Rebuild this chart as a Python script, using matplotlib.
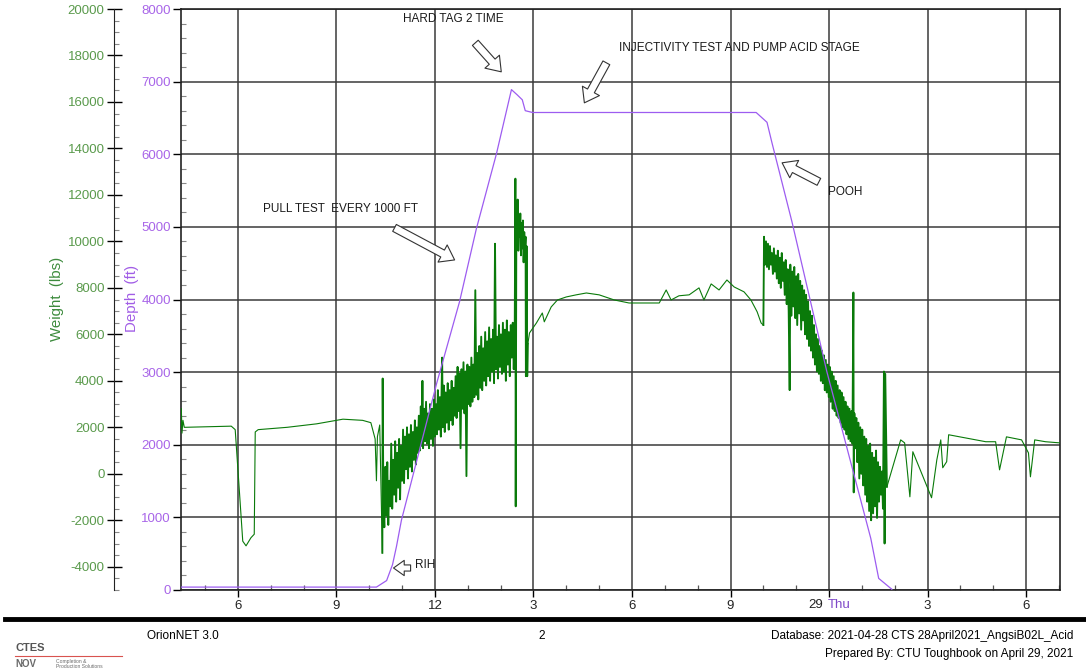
import numpy as np
import matplotlib.pyplot as plt
from matplotlib.ticker import MultipleLocator, FixedLocator

plt.rcParams['font.family'] = ['Liberation Sans', 'DejaVu Sans']
plt.rcParams['axes.unicode_minus'] = False

# ---- data (time in hours from 28 Apr 00:00) ----
depth_hours = [4.27, 10.22, 10.53, 10.71, 10.83, 10.98, 12.05, 12.75, 13.26, 13.87,
               14.33, 14.50, 14.66, 14.75, 14.97, 21.78, 22.11, 22.26, 22.87, 23.93,
               25.27, 25.51, 25.91]
depth_ft = [40, 40, 130, 350, 600, 960, 2840, 3970, 4970, 6000,
            6890, 6820, 6750, 6600, 6575, 6575, 6440, 6160, 5070, 3010,
            710, 160, 10]

# weight: before RIH
wt_surface = [(4.27, 2000), (4.28, 2800), (4.30, 1750), (4.33, 2300), (4.37, 2000),
              (5.80, 2050), (5.92, 1900), (6.05, -800), (6.15, -2900), (6.25, -3100),
              (6.40, -2750), (6.50, -2600), (6.53, 1800), (6.62, 1900), (7.50, 2000),
              (8.40, 2150), (9.20, 2350), (9.80, 2300), (10.05, 2200), (10.18, 1500),
              (10.22, -300), (10.25, 1600), (10.32, 2100), (10.40, -3400)]

# weight: running in hole (noisy)
wt_rih = [(10.40, -3400), (10.41, 4100), (10.43, -1200), (10.46, -2300), (10.49, 300),
          (10.52, -1800), (10.55, 500), (10.58, -2200), (10.61, -300), (10.64, -1400),
          (10.67, 1300), (10.70, -1500), (10.73, 600), (10.76, -900), (10.79, 1400),
          (10.82, -1200), (10.85, 900), (10.88, -600), (10.91, 1500), (10.94, -1100),
          (10.97, 1200), (11.00, -300), (11.03, 1900), (11.06, -400), (11.09, 1600),
          (11.12, 200), (11.15, 2000), (11.18, -200), (11.21, 1700), (11.24, 300),
          (11.27, 2100), (11.30, 100), (11.33, 1800), (11.36, 600), (11.39, 2300),
          (11.42, 400), (11.45, 2000), (11.48, 900), (11.51, 2500), (11.54, 1000),
          (11.57, 2900), (11.60, 1200), (11.62, 4000), (11.64, 1100), (11.67, 2800),
          (11.70, 1400), (11.73, 3100), (11.76, 1300), (11.79, 2600), (11.82, 1100),
          (11.85, 3000), (11.88, 1500), (11.91, 2800), (11.94, 1200), (11.97, 3200),
          (12.00, 1600), (12.03, 3000), (12.06, 1700), (12.09, 3600), (12.12, 1900),
          (12.15, 3300), (12.18, 1600), (12.22, 5000), (12.24, 2000), (12.27, 3800),
          (12.30, 1800), (12.33, 3500), (12.36, 2200), (12.39, 3900), (12.42, 1900),
          (12.45, 3600), (12.48, 2300), (12.51, 4000), (12.54, 2100), (12.57, 3700),
          (12.60, 2500), (12.63, 4200), (12.66, 2400), (12.69, 4600), (12.72, 2700),
          (12.75, 4300), (12.78, 1100), (12.81, 4500), (12.84, 2800), (12.87, 4800),
          (12.90, 2600), (12.93, 4400), (12.96, -100), (12.99, 4700), (13.02, 3000),
          (13.05, 4600), (13.08, 2900), (13.11, 5000), (13.14, 3100), (13.17, 4700),
          (13.20, 3300), (13.23, 7900), (13.26, 3400), (13.29, 5200), (13.32, 3200),
          (13.35, 5500), (13.38, 3700), (13.41, 5900), (13.44, 3600), (13.47, 5400),
          (13.50, 4000), (13.53, 6100), (13.56, 3800), (13.59, 5700), (13.62, 4200),
          (13.65, 6300), (13.68, 4000), (13.71, 5800), (13.74, 4400), (13.77, 6200),
          (13.80, 3900), (13.83, 9900), (13.86, 4500), (13.89, 5900), (13.92, 4100),
          (13.95, 6400), (13.98, 4600), (14.01, 6000), (14.04, 4300), (14.07, 6500),
          (14.10, 4400), (14.13, 6200), (14.16, 4000), (14.19, 6600), (14.22, 4700),
          (14.25, 6100), (14.28, 4200), (14.31, 6400), (14.34, 5000), (14.37, 6500),
          (14.40, 4500), (14.43, 6200), (14.45, 12700), (14.46, -1400), (14.48, 11500),
          (14.50, 9800), (14.52, 11800), (14.54, 9600), (14.56, 11000), (14.58, 10200),
          (14.60, 11200), (14.62, 9400), (14.64, 10800), (14.66, 9700), (14.68, 10900),
          (14.70, 9100), (14.72, 10400), (14.74, 9500), (14.76, 10200), (14.77, 4200),
          (14.79, 9800), (14.81, 4200), (14.83, 5600)]

# weight: on bottom, injectivity / acid stage
wt_bottom = [(14.83, 5600), (14.88, 6060), (15.09, 6490), (15.27, 6920), (15.33, 6540),
             (15.54, 7180), (15.73, 7480), (16.00, 7610), (16.30, 7700), (16.61, 7780),
             (17.00, 7700), (17.46, 7480), (17.91, 7350), (18.83, 7350), (19.04, 7910),
             (19.19, 7480), (19.43, 7660), (19.74, 7700), (20.04, 8000), (20.19, 7480),
             (20.41, 8170), (20.65, 7910), (20.89, 8340), (21.11, 8040), (21.41, 7830),
             (21.62, 7480), (21.81, 6970), (21.93, 6490), (22.00, 6400)]

# weight: pulling out of hole (noisy)
wt_pooh = [(22.00, 6400), (22.02, 10200), (22.05, 9000), (22.08, 10000), (22.11, 8900),
           (22.14, 9900), (22.17, 8800), (22.20, 9800), (22.23, 9000), (22.26, 9500),
           (22.29, 8600), (22.32, 9700), (22.35, 8700), (22.38, 9400), (22.41, 8400),
           (22.44, 9600), (22.47, 8200), (22.50, 9300), (22.53, 8000), (22.56, 9500),
           (22.59, 8300), (22.62, 9100), (22.65, 7700), (22.68, 9200), (22.71, 7300),
           (22.74, 8800), (22.77, 7000), (22.80, 3600), (22.82, 9000), (22.85, 6800),
           (22.88, 8700), (22.91, 7200), (22.94, 8900), (22.97, 6700), (23.00, 8500),
           (23.03, 6400), (23.06, 8600), (23.09, 6900), (23.12, 8300), (23.15, 6200),
           (23.18, 8100), (23.21, 6600), (23.24, 7900), (23.27, 6000), (23.30, 7700),
           (23.33, 5800), (23.36, 7400), (23.39, 5500), (23.42, 7000), (23.45, 5300),
           (23.48, 6800), (23.51, 5000), (23.54, 6400), (23.57, 4700), (23.60, 6000),
           (23.63, 4400), (23.66, 5800), (23.69, 4300), (23.72, 5500), (23.75, 4000),
           (23.78, 5300), (23.81, 3900), (23.84, 5100), (23.87, 3600), (23.90, 4900),
           (23.93, 3500), (23.96, 4700), (23.99, 3300), (24.02, 4600), (24.05, 3100),
           (24.08, 4400), (24.11, 2800), (24.14, 4200), (24.17, 2700), (24.20, 4000),
           (24.23, 2500), (24.26, 3800), (24.29, 2400), (24.32, 3600), (24.35, 2200),
           (24.38, 3500), (24.41, 2000), (24.44, 3300), (24.47, 1900), (24.50, 3100),
           (24.53, 1700), (24.56, 2900), (24.59, 1500), (24.62, 2800), (24.65, 1400),
           (24.68, 2700), (24.71, 1300), (24.74, 7800), (24.75, -800), (24.77, 2600),
           (24.80, 1100), (24.83, 2400), (24.86, 500), (24.89, 2200), (24.92, -200),
           (24.95, 2000), (24.98, 0), (25.01, 1900), (25.04, -500), (25.07, 1600),
           (25.10, -900), (25.13, 1500), (25.16, -1200), (25.19, 1200), (25.22, -1600),
           (25.25, 1300), (25.28, -2000), (25.31, 900), (25.34, -1700), (25.37, 700),
           (25.40, -1400), (25.43, 1000), (25.46, -1900), (25.49, 500), (25.52, -1200),
           (25.55, 300), (25.58, -900), (25.61, 100), (25.64, -1500), (25.67, 4400),
           (25.69, -3000), (25.71, 4300), (25.76, -560)]

# weight: back at surface
wt_after = [(25.76, -560), (26.18, 1460), (26.30, 1330), (26.46, -990), (26.55, 950),
            (27.12, -1030), (27.28, 600), (27.40, 1460), (27.46, 260), (27.58, 520),
            (27.64, 1680), (28.77, 1380), (29.07, 1380), (29.19, 170), (29.40, 1590),
            (29.86, 1460), (30.07, 900), (30.13, -130), (30.26, 1460), (30.59, 1380),
            (31.03, 1330)]

x_ticks = [6, 9, 12, 15, 18, 21, 24, 27, 30]
x_labels = ['6', '9', '12', '3', '6', '9', '', '3', '6']

GREEN = '#0a7a0a'
GREEN_TXT = '#5a9a4c'
PURPLE = '#9d5cf0'
PURPLE_TXT = '#a865e8'
GRID = '#3a3a3a'

fig = plt.figure(figsize=(10.86, 6.69), dpi=100)
ax = fig.add_axes([181/1086, 1 - 590/669, 879/1086, 581/669])
ax2 = ax.twinx()

# weight on ax2 (noisy parts drawn a little heavier, like the log plot)
for seg, lw in [(wt_surface, 0.8), (wt_rih, 1.35), (wt_bottom, 0.8),
                (wt_pooh, 1.35), (wt_after, 0.8)]:
    arr = np.array(seg)
    ax2.plot(arr[:, 0], arr[:, 1], color=GREEN, lw=lw)
# depth drawn on top through ax's data transform
ax2.plot(depth_hours, depth_ft, color=PURPLE, lw=0.9, transform=ax.transData)

ax.set_xlim(4.27, 31.03)
ax.set_ylim(0, 8000)
ax2.set_ylim(-5000, 20000)

ax.xaxis.set_major_locator(FixedLocator(x_ticks))
ax.set_xticklabels(x_labels)
ax.xaxis.set_minor_locator(MultipleLocator(1))
ax.yaxis.set_major_locator(MultipleLocator(1000))
ax.yaxis.set_minor_locator(MultipleLocator(200))
ax.grid(True, which='major', color=GRID, lw=1.1)

ax.tick_params(axis='x', which='major', direction='out', length=5, width=1,
               labelsize=9.5, pad=2, labelcolor='#222222')
ax.tick_params(axis='x', which='minor', direction='in', length=3.6, width=0.9,
               color='#555555')
ax.tick_params(axis='y', which='major', direction='out', length=5.8, width=1,
               labelsize=9.5, pad=1.5, labelcolor=PURPLE_TXT)
ax.tick_params(axis='y', which='minor', direction='in', length=3.6, width=0.8,
               color='#888888')
for s in ax.spines.values():
    s.set_linewidth(1.2)
    s.set_color('#222222')

ax2.yaxis.tick_left()
ax2.spines['left'].set_position(('outward', 48.2))
ax2.spines['left'].set_visible(True)
ax2.spines['left'].set_color('#222222')
for s in ['right', 'top', 'bottom']:
    ax2.spines[s].set_visible(False)
ax2.yaxis.set_major_locator(MultipleLocator(2000))
ax2.yaxis.set_minor_locator(MultipleLocator(500))
ax2.tick_params(axis='y', which='major', direction='inout', length=10.8, width=1,
                labelsize=9.5, pad=1.5, labelcolor=GREEN_TXT)
ax2.tick_params(axis='y', which='minor', direction='in', length=3.6, width=0.8,
                color='#888888')

# "29 Thu" day label
ax.annotate('29', xy=(24, 0), xycoords=('data', 'axes fraction'),
            xytext=(-4, -11), textcoords='offset points',
            ha='right', va='center', fontsize=9.5, color='#222222')
ax.annotate('Thu', xy=(24, 0), xycoords=('data', 'axes fraction'),
            xytext=(-1, -11), textcoords='offset points',
            ha='left', va='center', fontsize=9.5, color='#7e48c8')

# axis titles
fig.text(57/1086, 1 - 299/669, 'Weight  (lbs)', rotation=90, color='#3d8b3d',
         fontsize=10.8, ha='center', va='center')
fig.text(132/1086, 1 - 298/669, 'Depth  (ft)', rotation=90, color='#a15de6',
         fontsize=10.8, ha='center', va='center')

# event notes with block arrows
notes = [
    ('HARD TAG 2 TIME', (11.02, 7865), (13.23, 7534), (14.02, 7135), 14),
    ('INJECTIVITY TEST AND PUMP ACID STAGE', (17.61, 7466), (17.22, 7259), (16.55, 6708), 14),
    ('PULL TEST  EVERY 1000 FT', (6.76, 5248), (10.77, 4986), (12.60, 4545), 14),
    ('POOH', (23.96, 5482), (23.69, 5620), (22.57, 5882), 14),
    ('RIH', (11.38, 344), (11.26, 303), (10.74, 303), 11),
]
for label, txt_xy, tail, head, ms in notes:
    ax.text(txt_xy[0], txt_xy[1], label, fontsize=8.5, color='#1a1a1a',
            ha='left', va='center', zorder=6)
    ax.annotate('', xy=head, xytext=tail,
                arrowprops=dict(arrowstyle='simple,head_length=0.7,head_width=1.0,tail_width=0.4',
                                fc='white', ec='#333333', lw=0.8,
                                shrinkA=0, shrinkB=0, mutation_scale=ms),
                zorder=6)

# footer
fig.add_artist(plt.Line2D([5/1086, 1.0], [1 - 619/669] * 2, color='black', lw=3.5))
fig.text(147/1086, 1 - 636/669, 'OrionNET 3.0', fontsize=8.5, ha='left', va='center')
fig.text(542/1086, 1 - 636/669, '2', fontsize=8.5, ha='center', va='center')
fig.text(1073/1086, 1 - 636/669, 'Database: 2021-04-28 CTS 28April2021_AngsiB02L_Acid',
         fontsize=8.5, ha='right', va='center')
fig.text(1073/1086, 1 - 654/669, 'Prepared By: CTU Toughbook on April 29, 2021',
         fontsize=8.5, ha='right', va='center')

# logo
fig.text(15/1086, 1 - 648/669, 'CTES', fontsize=8, weight='bold', color='#555555',
         ha='left', va='center')
fig.add_artist(plt.Line2D([15/1086, 122/1086], [1 - 656/669] * 2, color='#d9534f', lw=0.8))
fig.text(15/1086, 1 - 664/669, 'NOV', fontsize=7, weight='bold', color='#6a6a6a',
         ha='left', va='center')
fig.text(56/1086, 1 - 664/669, 'Completion &\nProduction Solutions', fontsize=3.6,
         color='#6a6a6a', ha='left', va='center', linespacing=0.9)

fig.savefig('out.png', dpi=100)
